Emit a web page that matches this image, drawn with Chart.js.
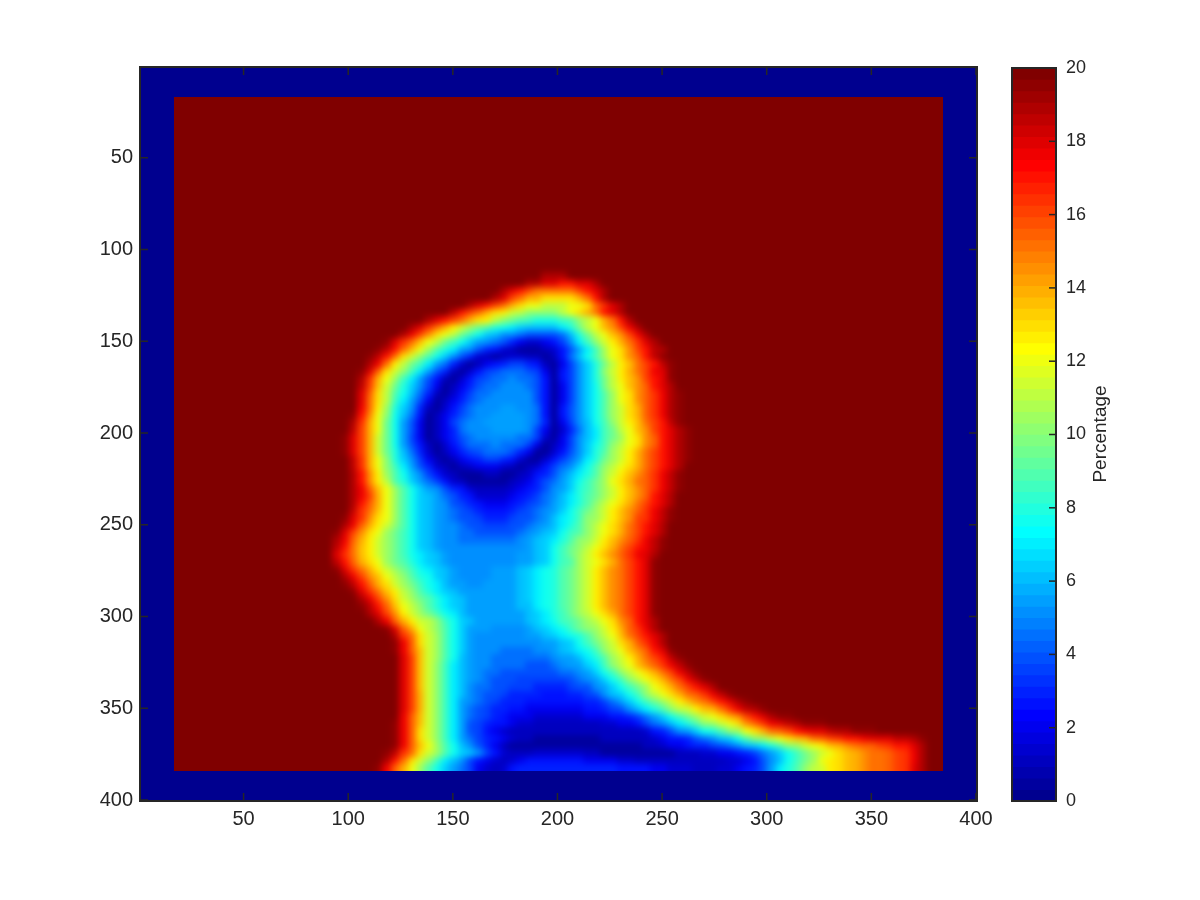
<!DOCTYPE html>
<html>
<head>
<meta charset="utf-8">
<title>Percentage map</title>
<script src="https://cdn.jsdelivr.net/npm/chart.js@4"></script>
<style>
html,body{margin:0;padding:0;background:#fff;}
#main{position:absolute;left:0;top:0;}
#bar{position:absolute;left:1000px;top:40px;}
</style>
</head>
<body>
<canvas id="main" width="1200" height="900"></canvas>
<canvas id="bar" width="200" height="800"></canvas>
<script>
const axisTicks = [50,100,150,200,250,300,350,400]
const colorbarTicks = [0,2,4,6,8,10,12,14,16,18,20]
const colorbarLabel = "Percentage"
const frameValue = 0
const fieldValue = 20
const frameStart = 16
const frameEnd = 384
const gridStep = 4
const gridSize = 400
const firstRowY = 112

// left edge of the first listed cell in each row, everything else in the frame is fieldValue
const rowStarts = [192,184,172,168,156,148,136,128,124,116,112,108,108,104,104,104,104,104,104,100,100,100,96,96,96,100,100,100,100,100,100,100,100,96,96,92,92,92,92,92,92,96,96,100,104,104,108,112,116,120,120,120,124,124,124,124,124,124,124,124,124,120,120,120,120,116,116,112]

const rowValues = [
[19,19,19,20],
[19,19,18,18,17,17,18,18,19],
[19,18,17,16,15,15,15,15,15,16,17,18,19],
[19,18,16,15,14,14,13,13,13,13,14,15,17,19],
[19,18,17,16,15,14,13,12,12,11,11,11,12,12,13,15,16.5,18,19],
[18.5,17,16,15,14,13,12.5,11.5,11,10,10,10,10,11,12,13,14,15,17,18,19],
[19,18,17,16,15,14,13,12.5,11,10,9.5,9,8.5,8,8,8,8.5,9,10,11,12,14,15,17,19],
[19,18,16.5,15,14,12.5,11.5,10.5,9.5,9,8,7.5,7,6.5,6,6,6,6,7,8,9.5,11,12,13.5,14.5,16,17.5,19],
[19,17.5,16,14.5,13,12,11,9.5,8.5,7.5,6.5,6,5,5,4.5,4,4,4,4,4.5,6,8,9.5,11,12,13.5,14.5,16,17.5,19],
[19.5,18,16.5,15,13.5,12,11,9.5,8.5,7.5,6.5,5.5,5,4.5,4,3,2,1.5,1.5,2,2.5,3.5,5,7,8.5,10,11.5,12.5,14,15,16.5,18,19],
[19.5,18.5,17,15,13.5,12,10.5,9,8,7,5.5,5,4,3,2.5,1.5,1,0.5,0.5,0.5,1,1.5,2.5,4,5.5,7,8.5,10.5,12,13,14.5,16,17,18.5,19],
[19.5,18.5,17,15,13,11.5,10,9,7.5,6.5,5,4,3,1.5,1,0.5,1,1.5,1.5,1,1,0.5,1,2.5,4.5,6,7.5,9,10.5,12,13,14.5,15.5,17,18.5,19.5],
[19,17.5,15,12.5,11,9.5,8.5,7,5.5,4.5,3,1.5,0.5,1,2,2.5,3,3.5,3.5,3,2.5,1,0.5,2,3.5,5,6.5,8,9.5,11,12.5,13.5,15,16,17,18.5,19.5],
[19.5,18,15.5,13,11.5,10,8.5,7,5.5,4,3,1,0.5,1.5,2.5,3.5,4,4.5,4.5,4.5,4,3.5,2,0.5,2.5,3.5,5,6.5,8,10,11.5,12.5,14,15,16,17.5,18,19.5],
[19,16.5,14,12,10.5,8.5,7,5.5,4,2.5,1,0.5,1.5,2.5,3.5,4,4.5,4.5,5,4.5,4.5,4,2.5,0.5,2.5,3.5,5,6.5,8,9.5,11,12.5,13.5,14.5,16,17,18,19.5],
[18.5,16,13.5,11.5,9.5,8,6.5,5,3.5,2,0.5,1,2,3,4,4.5,4.5,5,5,5,4.5,4,2.5,0.5,2,3.5,5,6.5,7.5,9.5,11,12,13.5,14.5,15.5,17,18,19],
[18,15.5,13,11,9,7.5,6,4.5,3,1,0.5,1.5,2.5,3.5,4.5,4.5,5,5,5,5,5,4,2.5,0.5,2,3.5,5,6.5,7.5,9,10.5,12,13,14.5,15.5,16.5,17.5,19,19.5],
[18,15,13,11,8.5,7,5.5,4,2,0.5,1,2,3,4,4.5,5,5,5,5,5,5,4,2.5,0.5,2,3.5,5,6.5,7.5,9,10.5,12,13,14.5,15.5,16.5,17.5,19,19.5],
[17.5,15,12.5,10.5,8,6.5,5,3,1,0.5,1.5,2.5,3.5,4.5,5,5,5,5.5,5.5,5,5,4.5,2.5,0.5,2.5,4,5,6.5,7.5,9,10.5,11.5,13,14,15.5,16.5,17.5,19,19.5],
[19.5,17,14.5,12,10,7.5,6,4.5,2.5,0.5,1,2,3,4,4.5,5,5,5.5,5.5,5.5,5.5,5,4.5,2.5,0.5,2.5,4,5,6.5,7.5,9,10.5,11.5,13,14,15.5,16.5,17.5,19,19.5],
[19,16.5,14,12,9.5,7.5,5.5,4,2,0.5,1,2,3.5,4.5,5,5,5.5,5.5,5.5,5.5,5.5,5,4.5,3,0.5,2,3.5,5,6,7.5,8.5,10,11.5,12.5,13.5,15,16,17,18.5,19.5],
[18.5,16,14,12,9.5,7.5,5.5,4,2,0.5,1,2,3,4.5,5,5,5,5.5,5.5,5.5,5.5,5,3.5,2,0.5,1.5,3,4.5,6,7,8.5,9.5,11,12,13.5,14.5,16,17,18,19,19.5],
[19.5,18,16,14,11.5,9.5,7.5,5.5,3.5,2,0.5,1,2,3,4,4.5,5,5,5,5,5,4.5,4.5,3.5,1.5,0.5,2,3.5,5,6,7,8.5,9.5,10.5,12,13,14.5,15.5,17,18,19,19.5],
[19.5,18,16,14,11.5,9.5,7.5,5.5,4,2.5,1,0.5,1.5,2.5,3.5,4.5,4.5,4.5,5,4.5,4.5,4.5,3.5,2,0.5,1,2,3.5,5,6.5,7.5,8.5,10,11,12,13,14.5,15.5,17,18,19,19.5],
[19.5,18,16,14,11.5,9.5,8,6,4.5,3,1.5,0.5,1,2,3,3.5,4,4.5,4.5,4.5,4,3,2,0.5,0.5,1.5,2.5,4,5,6.5,8,9,10.5,11.5,12.5,14,15,16,17,18,19,19.5],
[18.5,16.5,14,12,10,8,6.5,5,3.5,2,1,0.5,1,2,2.5,3,3.5,3.5,3,2.5,1.5,0.5,0.5,1.5,2.5,3.5,4.5,5.5,7,8,9.5,10.5,11.5,12.5,14,15,16,17,18,19,19.5],
[18.5,16.5,14,12,10,8.5,7,5.5,4,3,1.5,1,0.5,1,1.5,2,2,2,1.5,1,0.5,1,1.5,2.5,3.5,4.5,5,6.5,7.5,9,10,11,12,13,14,15,16,17,18,19],
[19,17,14.5,12.5,10.5,9,7.5,6,5,3.5,2.5,1.5,1,0.5,0.5,0.5,1,1,0.5,0.5,1,1.5,2.5,3,4,5,6,7,8,9,10.5,11.5,12.5,13.5,14.5,15.5,16.5,17.5,18.5,19.5],
[19,17,14.5,12.5,11,9,8,6.5,5.5,4.5,3.5,2.5,1.5,1,0.5,0.5,0.5,0.5,0.5,1,1.5,2,3,4,4.5,5.5,6.5,7.5,8.5,9.5,10.5,12,13,14,15,15.5,16.5,17.5,18.5,19.5],
[19,17.5,15.5,13.5,12,10.5,9,7.5,6.5,5.5,5,4,3,2.5,1.5,1,1,1,1,1.5,2,2.5,3,4,5,5.5,6.5,8,8.5,9.5,10.5,11.5,12.5,13.5,14.5,15.5,16.5,17.5,18.5,19.5],
[19,17.5,16,14,12,10.5,9,7.5,6.5,6,5.5,4.5,4,3,2.5,1.5,1.5,1.5,1.5,2,2.5,3,3.5,4.5,5,6,7,8,9,9.5,10.5,11.5,12.5,13.5,14.5,15.5,17,18,19],
[19,17,15.5,14,12,10.5,9,7.5,6.5,6,5.5,5,4,3.5,3,2.5,2,2,2,2.5,3,3.5,4,4.5,5.5,6,7,8,9,10,11,12,13,14,15,16,17,18,19],
[18.5,16.5,15,13.5,12,10.5,9,7.5,6.5,6,5.5,5,4.5,4,3.5,3,2.5,2.5,2.5,3,3.5,4,4.5,5,5.5,6.5,7.5,8.5,9.5,10.5,11.5,12.5,13.5,14.5,15.5,16.5,17.5,18.5,19.5],
[19.5,18,16.5,14.5,13,12,10.5,9,7.5,6.5,6,5.5,5,4.5,4,4,3.5,3,3,3,3.5,4,4,4.5,5,6,7,7.5,8.5,10,10.5,11.5,12.5,13.5,14.5,16,16.5,17.5,18.5,19.5],
[19,17.5,15.5,14,12.5,11.5,10,9,7.5,6.5,6,5.5,5,5,4.5,4,4,3.5,3.5,3.5,4,4,4.5,5,5.5,6,7,8,9,10,11,12,13,14,15,16,17,18,19],
[19.5,18,16,14.5,13,12,10.5,9.5,8.5,7.5,6.5,6,5.5,5,5,4.5,4.5,4,4,4,4,4,4.5,5,5.5,6,6.5,7.5,8.5,9,10,11,12,13,14,15,16,17,18,19],
[19,17.5,15.5,14,12.5,11.5,10.5,9.5,8.5,7.5,6.5,6,5.5,5,5,4.5,4.5,4.5,4.5,4.5,4.5,4.5,5,5.5,6,6.5,7,8,9,10,10.5,11.5,12.5,13.5,14.5,15.5,16.5,17.5,18.5,19.5],
[18.5,17,15,13.5,12.5,11.5,10.5,9.5,8.5,7.5,6.5,6,5.5,5,5,5,5,5,5,5,5,5,5,5.5,6,6.5,7.5,8.5,9.5,10,11,12,13,14,15,16,17,17.5,18.5,19.5],
[18,16.5,15,13.5,12.5,11.5,10.5,9.5,8.5,7.5,7,6.5,6,5.5,5,5,5,5,5,5,5,5,5.5,5.5,6,6.5,7.5,8.5,9.5,10.5,11.5,12.5,13.5,14.5,15.5,16.5,17.5,18,19],
[18.5,17,15.5,14,13,12,10.5,9.5,9,8,7,6.5,6,5.5,5,5,5,5,5,5,5,5,5.5,5.5,6,6.5,7.5,8.5,9,10.5,11.5,12,13,14,15,16,17,18,19.5],
[19.5,18,16.5,15,14,12.5,11.5,10.5,9.5,8.5,7.5,7,6.5,6,5.5,5,5,5,5,5.5,5.5,5.5,6,6.5,7,7.5,8,9,9.5,10.5,11.5,12.5,13.5,14.5,15,16,17,18,19.5],
[19,17.5,16,14.5,13.5,12,11,10,9,8,7.5,6.5,6,5.5,5,5,5,5,5.5,5.5,5.5,6,6.5,7,7.5,8,9,9.5,10.5,11.5,12.5,13.5,14.5,15,16,17,18,19.5],
[19.5,18.5,17,15.5,14,13,11.5,10.5,9.5,8.5,7.5,7,6,5.5,5.5,5,5,5.5,5.5,5.5,5.5,6,6.5,7,7.5,8,9,9.5,10.5,11.5,12.5,13.5,14.5,15,16,17,18,19.5],
[19.5,18,16.5,15,13.5,12.5,11,10,9,8,7,6.5,6,5.5,5.5,5.5,5.5,5.5,5.5,5.5,6,6.5,7,7.5,8,9,9.5,10.5,11.5,12.5,13.5,14.5,15,16,17,18,19.5],
[19,17.5,16,14.5,13,11.5,10.5,9.5,9,8,7,6.5,6,5.5,5.5,5.5,5.5,5.5,5.5,6,6.5,7,7.5,8,9,9.5,10.5,11.5,12.5,13.5,14.5,15,16,17,18,19.5],
[19.5,18.5,17,15.5,13.5,12,11,10,9,8,7,6.5,6,5.5,5.5,5.5,5.5,5.5,5.5,6,6,7,7.5,8,9,9.5,10.5,11.5,12.5,13.5,14.5,15,16,17,18,19.5],
[19,18,16,14.5,12.5,11.5,10.5,9.5,8.5,7.5,7,6,5.5,5.5,5.5,5.5,5.5,5.5,5.5,6,6.5,7,8,8.5,9.5,10.5,11,12,13,14,15,16,17,18,19.5],
[19,17.5,15.5,14,12.5,11.5,11,10,8.5,7.5,6.5,6,5.5,5.5,5.5,5.5,5.5,5.5,6,6.5,7,7.5,8.5,9,9.5,10.5,11,12,13,14.5,15.5,17,18,19],
[19.5,18,15.5,14,12,11,10,9,7.5,6.5,5.5,5.5,5.5,5,5,5,5,5.5,6,6.5,7,7.5,8.5,9.5,10,10.5,11.5,12.5,14,15.5,16.5,17.5,19],
[19,16.5,15,13,11.5,10.5,9,7.5,6.5,5.5,5,5,5,5,5,5,5.5,5.5,6,6.5,7,7.5,8,9,10,11,12,13.5,15,16,17,18,19],
[19.5,17.5,15.5,13,11.5,10.5,9,7.5,6.5,5.5,5,5,5,5,5,5,5,5,5.5,5.5,6,6.5,7.5,8.5,9.5,10.5,11.5,13,14,15.5,16.5,17.5,19],
[19.5,17.5,15.5,13.5,11.5,10.5,9,7.5,6.5,5.5,5,5,5,4.5,4.5,4.5,4.5,5,5,5.5,6,6.5,7,7.5,8.5,10,11,12,13.5,14.5,15.5,17,18,19.5],
[18,16,13.5,11.5,10.5,9,7.5,6,5.5,5,5,4.5,4.5,4.5,4.5,4.5,4.5,4.5,5,5.5,5.5,6,7,8,9,10.5,11.5,12.5,14,15,16,17,18.5,19.5],
[18,16,13.5,11.5,10,8.5,7,6,5.5,5,5,4.5,4.5,4.5,4.5,4,4,4,4.5,5,5.5,5.5,6.5,7,8.5,10,11,12,13.5,14.5,15.5,16.5,17.5,18.5,19.5],
[18,16,13.5,11.5,10,8.5,7,6,5.5,5,4.5,4.5,4,4,4,4,4,4,4,4.5,4.5,5,5.5,6.5,7.5,8.5,10,11,12,13,14,15,16,17.5,18.5,19.5],
[18,16,13.5,11.5,10,8.5,7,6,5.5,5,4.5,4,4,4,3.5,3.5,3.5,3.5,3.5,3.5,4,4.5,5,5.5,6.5,7.5,8.5,10,11,12,13,14,15,16,17.5,18.5,19.5],
[18,16,13.5,11.5,10,8.5,7,6,5,4.5,4.5,4,4,3.5,3.5,3.5,3,3,3,3,3.5,4,4,5,5.5,6.5,7.5,8.5,9.5,10.5,12,13,14,15,16,17,18,19],
[18,16,14,11.5,10,8.5,7,6,5,4.5,4,4,3.5,3,3,3,3,2.5,2.5,2.5,3,3,3.5,4,5,6,6.5,7.5,8.5,10,11,12,13,14,15,15.5,16.5,17.5,18.5,19.5],
[18,16,14,11.5,10,8.5,7,5.5,5,4.5,4,3.5,3,3,3,2.5,2.5,2.5,2.5,2.5,2.5,2.5,3,3,3.5,4.5,5.5,6.5,7.5,8.5,9.5,10.5,11.5,12.5,13.5,14.5,15,16,17,18,19,19.5],
[18,16,14,11.5,10,8.5,7,5.5,4.5,4,3.5,3,3,2.5,2.5,2,2,2,2,2,2,2,2.5,2.5,3,3.5,4,5,6,7,8,9,10,11,11.5,12.5,13.5,14,15,16.5,17.5,18.5,19,19.5],
[17.5,15.5,13.5,11.5,10,8.5,7,5.5,4.5,4,3.5,3,2.5,2,2,2,1.5,1.5,1.5,1.5,1.5,1.5,2,2,2,2.5,2.5,3,3.5,4.5,5.5,6.5,7.5,8.5,9.5,10.5,11.5,12,13,14,14.5,16,17,18,19,19.5,19.5],
[19.5,17.5,15.5,13.5,11.5,10,8.5,7,5.5,4,3.5,3,2.5,2.5,2,1.5,1.5,1,1,1,1,1,1,1,1,1.5,1.5,2,2,2.5,3.5,4.5,5,6,7,8,9,10,10.5,11.5,12,13,14.5,15.5,16.5,17.5,18,18.5,19,19.5,19.5,19.5],
[19.5,17.5,15.5,13,11.5,10,8.5,7,5.5,4,3.5,2.5,2,1.5,1,1,1,1,1,1,1,1,1,1,1,1,1,1,1,1,1.5,2.5,3,4,5,5.5,6.5,7.5,8,9,10,10.5,12,13,14,15,15.5,16,17,17.5,18,18,18.5,19,19,19.5,19.5,19.5],
[19.5,17.5,15.5,13,11.5,10,8.5,7,5.5,4.5,3.5,3,2.5,2,1.5,1,1,0.5,0.5,0.5,0.5,0.5,0.5,0.5,0.5,1,1,1,1,1,1,1.5,2,2.5,2.5,3,4,4.5,5,6,6.5,7.5,9,10,10.5,11.5,12,13,13.5,14,15,15.5,16,16.5,17,17,17.5,18,18,18,18.5,18.5,19,19.5],
[19.5,17.5,15.5,13.5,12,10.5,9,7.5,6,5,4,3,2,1,0.5,0.5,0.5,0.5,0.5,0.5,0.5,0.5,0.5,0.5,0.5,0.5,0.5,0.5,0.5,0.5,1,1,1.5,2,2,2.5,3,3,3.5,4,4.5,5,6,6.5,7,8,9,10,10.5,11.5,12,12.5,13.5,14,14.5,15,15.5,15.5,16,16.5,17,17,18,19],
[19.5,18.5,16.5,15,13,11.5,10.5,9,7.5,6.5,6,5,3.5,2.5,1.5,1,1,1,1.5,1.5,1.5,1.5,1.5,1.5,1,1,0.5,0.5,0.5,0.5,0.5,0.5,0.5,0.5,0.5,1,1,1,1.5,1.5,2,2,2.5,3,3.5,4.5,5.5,6.5,7.5,8.5,9.5,10.5,11.5,12,13,13.5,14,14.5,15,15,15.5,16,16.5,17.5,19],
[19,17,15,13,11.5,10,8.5,7,6,5,3.5,2.5,2,1.5,1,1.5,2,2.5,2.5,2.5,2.5,2.5,2.5,2.5,2,2,2,2,1.5,1.5,1,1,1,1,1,1,1,1,1,1,1,1.5,1.5,2,2.5,4,5,6,7.5,8.5,9.5,10.5,12,12.5,13,13.5,14,14.5,15,15,15.5,16,16.5,17.5,19],
[19.5,17.5,15.5,14,12,10.5,9,7.5,6.5,5.5,4.5,3.5,2,1.5,1,1.5,2.5,3,3,3,3,3,3,3,3,3,3,3,3,2.5,2.5,2.5,2.5,2,2,1.5,1.5,1.5,1,1,1,1.5,1.5,2,2.5,3,4,5.5,7,8,9,10,11,11.5,12.5,13,13.5,14,14.5,15,15,15.5,16,16.5,18,19]
]

const jetSteps = 64
const pixelShift = 0.5

function jetColor(level){
  const t = (level + 1) / jetSteps
  const part = function(center){
    return Math.round(255 * Math.min(1, Math.max(0, 1.5 - Math.abs(4 * t - center))))
  }
  return "rgb(" + part(3) + "," + part(2) + "," + part(1) + ")"
}

function levelOf(value){
  return Math.min(jetSteps - 1, Math.floor(value / fieldValue * jetSteps))
}

const sprites = []
for(let i = 0; i < jetSteps; i++){
  const c = document.createElement("canvas")
  c.width = 9
  c.height = 8
  const g = c.getContext("2d")
  g.fillStyle = jetColor(i)
  g.fillRect(0, 0, 9, 8)
  sprites.push(c)
}

// field cells run under the frame too, so the soft pass has something to blend with at the edge
const fieldCells = []
const frameCells = []
for(let row = 0; row < gridSize / gridStep; row++){
  for(let col = 0; col < gridSize / gridStep; col++){
    const x = col * gridStep
    const y = row * gridStep
    const cx = x + gridStep / 2 + pixelShift
    const cy = y + gridStep / 2 + pixelShift
    let v = fieldValue
    const k = Math.min((y - firstRowY) / gridStep, rowValues.length - 1)
    if(k >= 0){
      const j = (x - rowStarts[k]) / gridStep
      if(j >= 0 && j < rowValues[k].length) v = rowValues[k][j]
    }
    fieldCells.push({x: cx, y: cy, v: v})
    if(x < frameStart || x >= frameEnd || y < frameStart || y >= frameEnd){
      frameCells.push({x: cx, y: cy, v: frameValue})
    }
  }
}

const inkColor = "#262626"
const fontName = "'Liberation Sans', Arial, sans-serif"

// soften the blocky cells once the field dataset is painted, before the frame goes on top
const softenPlugin = {
  id: "soften",
  afterDatasetDraw(chart, args){
    if(args.index !== 1) return
    const a = chart.chartArea
    const g = chart.ctx
    g.save()
    g.beginPath()
    g.rect(a.left, a.top, a.right - a.left, a.bottom - a.top)
    g.clip()
    g.filter = "blur(3px)"
    g.drawImage(chart.canvas, 0, 0)
    g.restore()
  }
}

// MATLAB style box with inward ticks on all four sides
const boxPlugin = {
  id: "box",
  afterDraw(chart){
    const a = chart.chartArea
    const g = chart.ctx
    g.save()
    g.strokeStyle = inkColor
    g.lineWidth = 1.5
    chart.scales.x.ticks.forEach(function(t){
      const px = chart.scales.x.getPixelForValue(t.value)
      g.beginPath()
      g.moveTo(px, a.bottom)
      g.lineTo(px, a.bottom - 8)
      g.moveTo(px, a.top)
      g.lineTo(px, a.top + 8)
      g.stroke()
    })
    chart.scales.y.ticks.forEach(function(t){
      const py = chart.scales.y.getPixelForValue(t.value)
      g.beginPath()
      g.moveTo(a.left, py)
      g.lineTo(a.left + 8, py)
      g.moveTo(a.right, py)
      g.lineTo(a.right - 8, py)
      g.stroke()
    })
    g.lineWidth = 2
    g.strokeRect(a.left, a.top, a.right - a.left, a.bottom - a.top)
    g.restore()
  }
}

function cellStyle(ctx){
  return ctx.raw ? sprites[levelOf(ctx.raw.v)] : "circle"
}

new Chart(document.getElementById("main"), {
  type: "scatter",
  data: {
    datasets: [
      {data: frameCells, pointRadius: 1, pointBorderWidth: 0, pointStyle: cellStyle},
      {data: fieldCells, pointRadius: 1, pointBorderWidth: 0, pointStyle: cellStyle}
    ]
  },
  options: {
    responsive: false,
    animation: false,
    events: [],
    layout: {padding: {left: 80, right: 223, top: 67, bottom: 39}},
    plugins: {legend: {display: false}, tooltip: {enabled: false}},
    scales: {
      x: {
        type: "linear",
        min: 0.5,
        max: 400.5,
        grid: {display: false, drawTicks: false},
        border: {display: false},
        afterBuildTicks: function(s){ s.ticks = axisTicks.map(function(v){ return {value: v} }) },
        afterFit: function(s){ s.height = 60; s.paddingLeft = 0; s.paddingRight = 0 },
        ticks: {color: inkColor, font: {family: fontName, size: 20}, padding: 6, maxRotation: 0, autoSkip: false}
      },
      y: {
        type: "linear",
        reverse: true,
        min: 0.5,
        max: 400.5,
        grid: {display: false, drawTicks: false},
        border: {display: false},
        afterBuildTicks: function(s){ s.ticks = axisTicks.map(function(v){ return {value: v} }) },
        afterFit: function(s){ s.width = 60; s.paddingTop = 0; s.paddingBottom = 0 },
        ticks: {color: inkColor, font: {family: fontName, size: 20}, padding: 7, autoSkip: false}
      }
    }
  },
  plugins: [softenPlugin, boxPlugin]
})

// colorbar: each band is a bar from its lower edge up to the top, painted bottom first
const bandEdges = []
for(let i = 0; i < jetSteps; i++) bandEdges.push(fieldValue * i / jetSteps)

const colorbarPlugin = {
  id: "colorbarBox",
  afterDraw(chart){
    const a = chart.chartArea
    const g = chart.ctx
    g.save()
    g.strokeStyle = inkColor
    g.lineWidth = 1.5
    chart.scales.y.ticks.forEach(function(t){
      const py = chart.scales.y.getPixelForValue(t.value)
      g.beginPath()
      g.moveTo(a.right, py)
      g.lineTo(a.right - 7, py)
      g.stroke()
    })
    g.lineWidth = 2
    g.strokeRect(a.left, a.top, a.right - a.left, a.bottom - a.top)
    g.translate(101, 394)
    g.rotate(-Math.PI / 2)
    g.fillStyle = inkColor
    g.font = "19px " + fontName
    g.textAlign = "center"
    g.textBaseline = "middle"
    g.fillText(colorbarLabel, 0, 0)
    g.restore()
  }
}

new Chart(document.getElementById("bar"), {
  type: "bar",
  data: {
    labels: [colorbarLabel],
    datasets: bandEdges.map(function(low, i){
      return {
        data: [[low, fieldValue]],
        backgroundColor: jetColor(i),
        order: jetSteps - i,
        grouped: false,
        barPercentage: 1,
        categoryPercentage: 1,
        borderWidth: 0
      }
    })
  },
  options: {
    responsive: false,
    animation: false,
    events: [],
    layout: {padding: {left: 12, right: 94, top: 28, bottom: 39}},
    plugins: {legend: {display: false}, tooltip: {enabled: false}},
    scales: {
      x: {display: false},
      y: {
        position: "right",
        min: 0,
        max: 20,
        grid: {display: false, drawTicks: false},
        border: {display: false},
        afterBuildTicks: function(s){ s.ticks = colorbarTicks.map(function(v){ return {value: v} }) },
        afterFit: function(s){ s.width = 50; s.paddingTop = 0; s.paddingBottom = 0 },
        ticks: {color: inkColor, font: {family: fontName, size: 18}, padding: 10, autoSkip: false}
      }
    }
  },
  plugins: [colorbarPlugin]
})
</script>
</body>
</html>
